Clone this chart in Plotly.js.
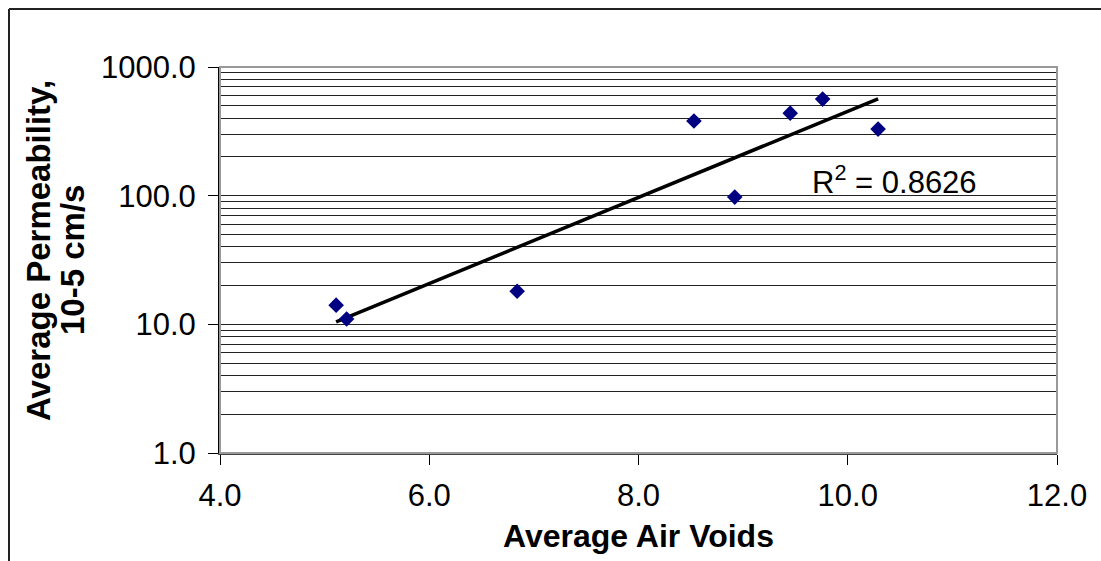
<!DOCTYPE html>
<html>
<head>
<meta charset="utf-8">
<script src="https://cdn.plot.ly/plotly-3.0.1.min.js"></script>
<style>
html,body{margin:0;padding:0;background:#fff;}
#chart{width:1101px;height:561px;}
</style>
</head>
<body>
<div id="chart"></div>
<script>
// Data
const airVoids = [5.11, 5.21, 6.84, 8.53, 8.92, 9.45, 9.76, 10.29];
const permeability = [14.1, 11.0, 18.1, 380, 97.5, 438, 563, 329];
const yTickVals = [1, 10, 100, 1000];
const yTickText = ["1.0", "10.0", "100.0", "1000.0"];
const xTickVals = [4, 6, 8, 10, 12];
const xTickText = ["4.0", "6.0", "8.0", "10.0", "12.0"];
const rSquaredLabel = "R<sup>2</sup> = 0.8626";

// Exponential trendline (least squares on log10 of y)
const n = airVoids.length;
const ly = permeability.map(v => Math.log10(v));
const mx = airVoids.reduce((a,b)=>a+b,0)/n;
const my = ly.reduce((a,b)=>a+b,0)/n;
let sxy=0, sxx=0;
for(let i=0;i<n;i++){ sxy += (airVoids[i]-mx)*(ly[i]-my); sxx += (airVoids[i]-mx)**2; }
const slope = sxy/sxx, icpt = my - slope*mx;
const xMin = Math.min(...airVoids), xMax = Math.max(...airVoids);
const trendX = [], trendY = [];
for(let k=0;k<=40;k++){ const x = xMin + (xMax-xMin)*k/40; trendX.push(x); trendY.push(Math.pow(10, icpt + slope*x)); }

// minor gridlines 2..9 in each decade
const minorVals = [];
[1,10,100].forEach(d => { for(let m=2;m<=9;m++) minorVals.push(m*d); });

const L=220, R=1057, T=67, B=453, W=1101, H=561;
const pw = R-L, ph = B-T;
const px = x => (x-L)/pw;
const py = y => (B-y)/ph;

const font = "Liberation Sans, Arial, sans-serif";

const traces = [
  {x: trendX, y: trendY, mode: 'lines', line: {color: '#000', width: 3.5}, hoverinfo: 'skip', showlegend: false},
  {x: airVoids, y: permeability, mode: 'markers', marker: {symbol: 'diamond', size: 12, color: '#000080'}, showlegend: false}
];

const layout = {
  width: W, height: H,
  margin: {l: L, r: W-R, t: T, b: H-B, pad: 0},
  paper_bgcolor: '#fff', plot_bgcolor: '#fff',
  showlegend: false,
  font: {family: font, color: '#000', size: 30},
  xaxis: {
    range: [4, 12], tickvals: xTickVals, ticktext: xTickText,
    ticks: 'outside', ticklen: 10, tickwidth: 1, tickcolor: '#000',
    showgrid: false, zeroline: false,
    showline: true, linecolor: '#444', linewidth: 2,
    tickfont: {size: 31, family: font, color: '#000'},
    ticklabelstandoff: 4,
    title: {text: '<b>Average Air Voids</b>', font: {size: 32, family: font, color: '#000'}, standoff: 12}
  },
  yaxis: {
    type: 'log', range: [0, 3], tickvals: yTickVals, ticktext: yTickText,
    ticks: 'outside', ticklen: 10, tickwidth: 1, tickcolor: '#000',
    showgrid: true, gridcolor: '#222', gridwidth: 1,
    minor: {tickvals: minorVals, showgrid: true, gridcolor: '#222', gridwidth: 1, ticks: ''},
    zeroline: false, showline: true, linecolor: '#000', linewidth: 2,
    tickfont: {size: 31, family: font, color: '#000'},
    ticklabelstandoff: 6
  },
  shapes: [
    {type: 'rect', xref: 'paper', yref: 'paper', x0: 0, x1: 1, y0: 0, y1: 1, line: {color: '#999', width: 2}},
    {type: 'line', xref: 'paper', yref: 'paper', x0: px(9), x1: px(9), y0: py(9), y1: py(H+5), line: {color: '#222', width: 2}},
    {type: 'line', xref: 'paper', yref: 'paper', x0: px(9), x1: px(W+5), y0: py(9), y1: py(9), line: {color: '#222', width: 2}}
  ],
  annotations: [
    {xref: 'paper', yref: 'paper', x: px(38), y: py(251), text: '<b>Average Permeability,</b>', textangle: -90, showarrow: false, font: {size: 33, family: font, color: '#000'}, xanchor: 'center', yanchor: 'middle'},
    {xref: 'paper', yref: 'paper', x: px(72), y: py(260), text: '<b>10-5 cm/s</b>', textangle: -90, showarrow: false, font: {size: 33, family: font, color: '#000'}, xanchor: 'center', yanchor: 'middle'},
    {xref: 'paper', yref: 'paper', x: px(894), y: py(180), text: rSquaredLabel, showarrow: false, font: {size: 31, family: font, color: '#000'}, xanchor: 'center', yanchor: 'middle'}
  ]
};

Plotly.newPlot('chart', traces, layout, {displayModeBar: false, staticPlot: true});
</script>
</body>
</html>
